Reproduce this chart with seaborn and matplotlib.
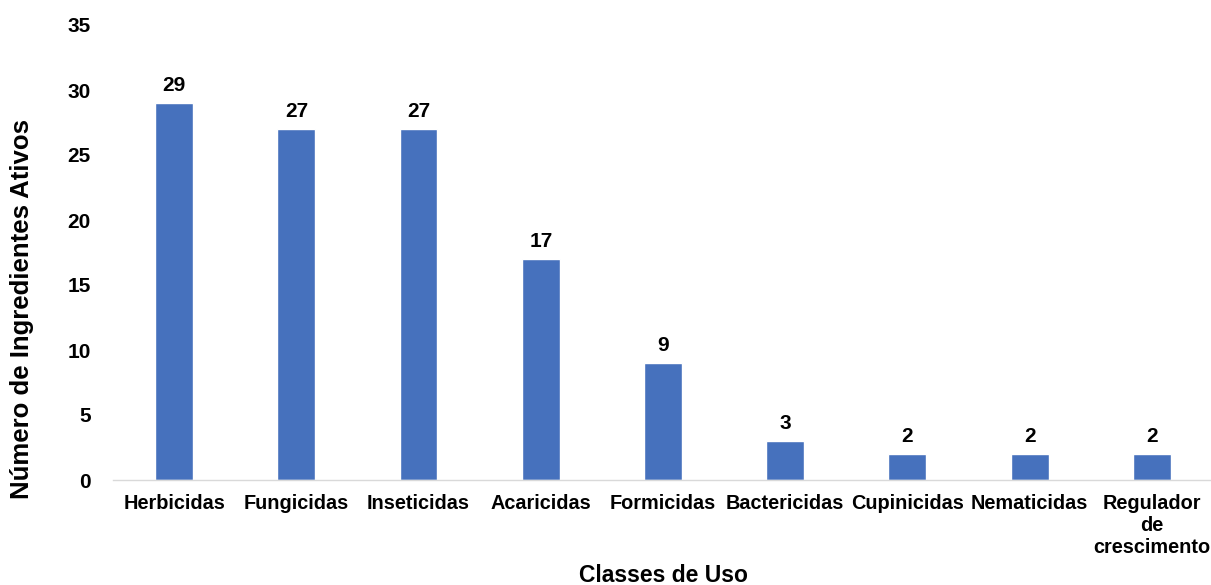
import matplotlib
matplotlib.use("Agg")
import matplotlib.pyplot as plt
import seaborn as sns
import pandas as pd

categories = ["Herbicidas", "Fungicidas", "Inseticidas", "Acaricidas", "Formicidas",
              "Bactericidas", "Cupinicidas", "Nematicidas", "Regulador\nde\ncrescimento"]
values = [29, 27, 27, 17, 9, 3, 2, 2, 2]
yticks = [0, 5, 10, 15, 20, 25, 30, 35]

sns.set_theme(style="white")
plt.rcParams['font.family'] = ['Liberation Sans', 'DejaVu Sans']
plt.rcParams['font.weight'] = 'bold'
plt.rcParams['text.color'] = '#000000'

df = pd.DataFrame({"cat": categories, "val": values})

W, H = 1211, 585
fig = plt.figure(figsize=(W / 100, H / 100), dpi=100)
ax = fig.add_axes([113 / W, 1 - 480 / H, 1100 / W, 455 / H])

sns.barplot(data=df, x="cat", y="val", color="#4671BD", saturation=1, width=0.31, ax=ax)

for i, v in enumerate(values):
    ax.text(i, v + 0.6, str(v), ha="center", va="bottom", fontsize=15,
            fontweight="bold", color="#000000")

ax.set_ylim(0, 35)
ax.set_xlim(-0.5, 8.5)
ax.set_yticks(yticks)
ax.set_yticklabels([str(t) for t in yticks], fontsize=15, fontweight="bold", color="#000000")
ax.tick_params(axis="x", labelsize=14.3, length=0, pad=10, labelcolor="#000000")
ax.tick_params(axis="y", length=0, pad=16, labelcolor="#000000")
for lbl in ax.get_xticklabels():
    lbl.set_fontweight("bold")
    lbl.set_verticalalignment("top")

for s in ["top", "right", "left"]:
    ax.spines[s].set_visible(False)
ax.spines["bottom"].set_color("#D9D9D9")
ax.spines["bottom"].set_linewidth(1.0)

ax.set_xlabel("")
ax.set_ylabel("")
fig.text(663 / W, 3 / H, "Classes de Uso", ha="center", va="baseline",
         fontsize=16.5, fontweight="bold", color="#000000")
fig.text(22 / W, 1 - 309 / H, "Número de Ingredientes Ativos", ha="center", va="center",
         rotation=90, fontsize=18.5, fontweight="bold", color="#000000")

fig.savefig("out.png", dpi=100)
